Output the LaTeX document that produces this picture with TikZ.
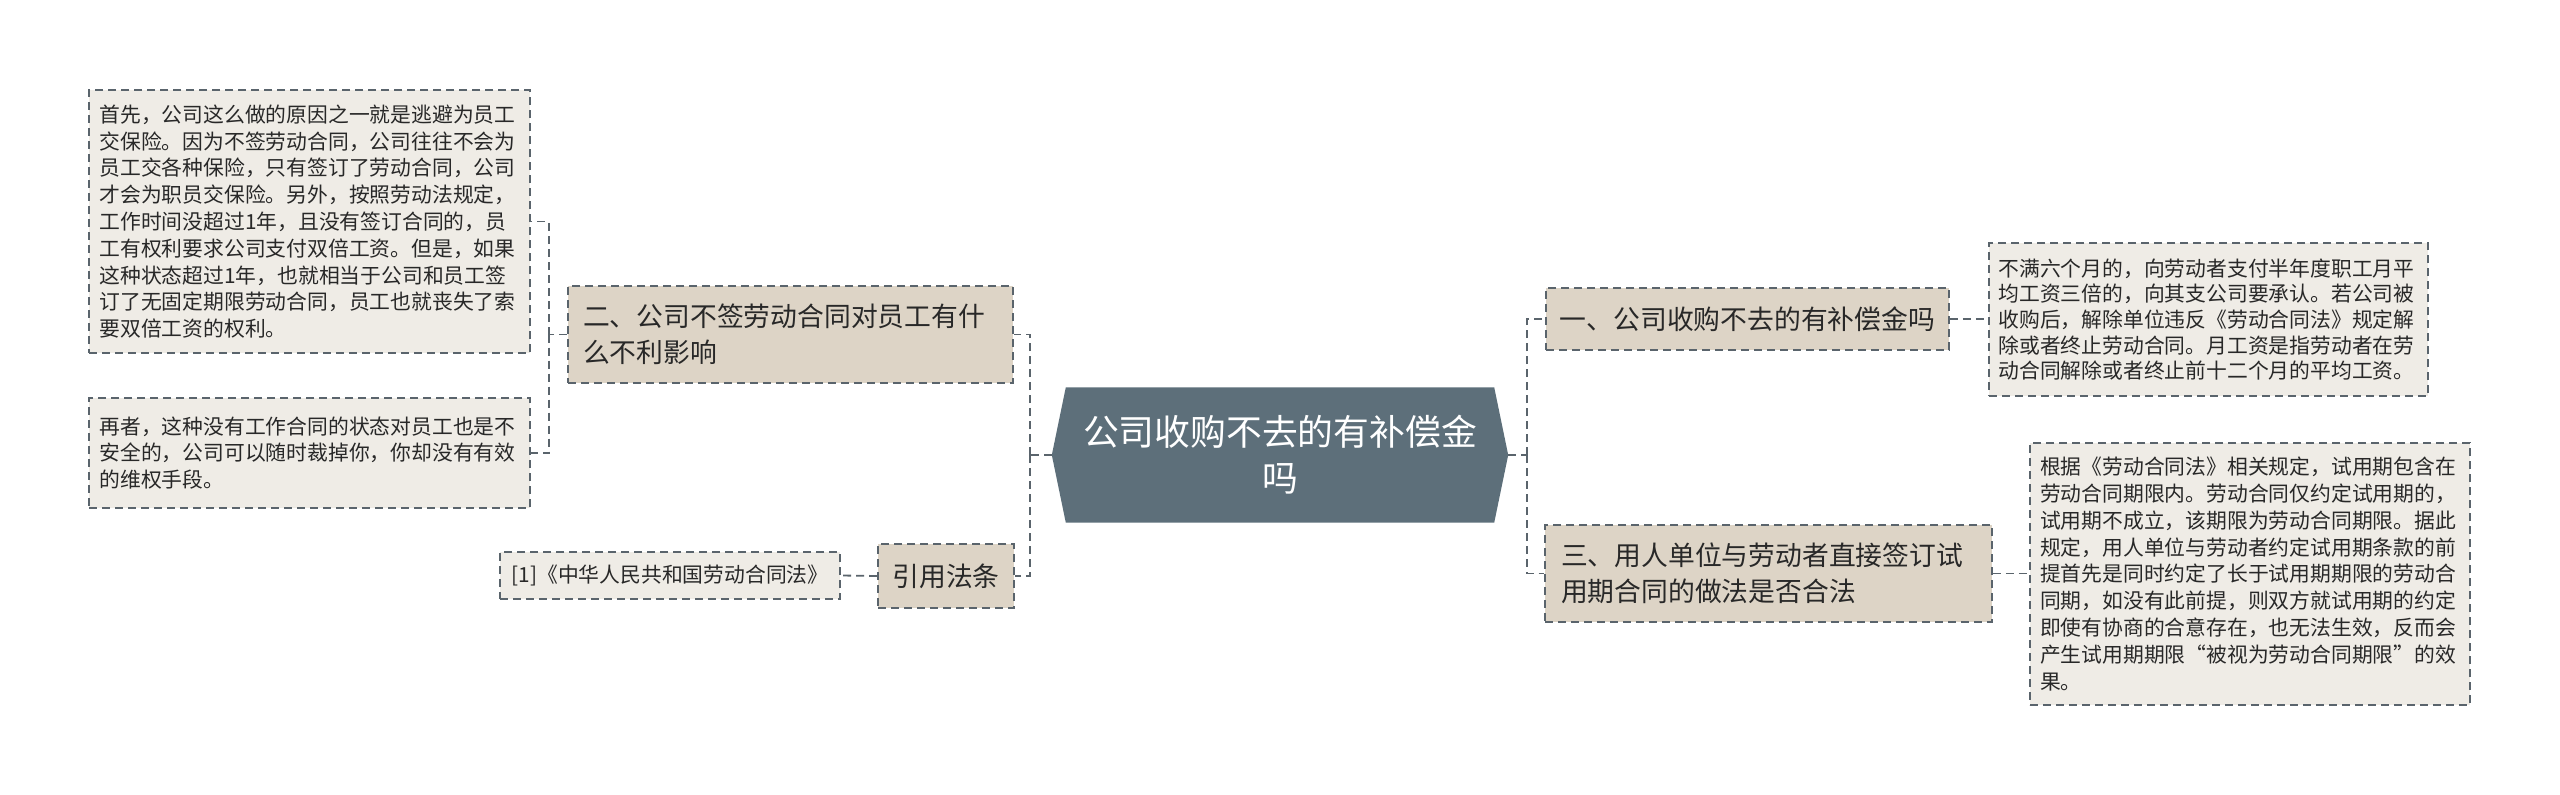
\documentclass[tikz,border=0pt]{standalone}
\usepackage{fontspec}
\setmainfont{Noto Sans CJK SC}
\definecolor{rootfill}{RGB}{93,111,122}
\definecolor{mainfill}{RGB}{221,212,198}
\definecolor{leaffill}{RGB}{239,236,230}
\definecolor{edgecol}{RGB}{90,100,108}
\definecolor{txtcol}{RGB}{40,40,40}
\tikzset{
  dashline/.style={line width=1.8pt, dash pattern=on 8pt off 5pt, draw=edgecol},
  mainbox/.style={dashline, fill=mainfill, text=txtcol, inner sep=0pt,
    font=\fontsize{26.8}{36}\selectfont},
  leafbox/.style={dashline, fill=leaffill, text=txtcol, inner sep=0pt,
    font=\fontsize{20.8}{26.8}\selectfont},
  conn/.style={dashline},
}
\begin{document}
\begin{tikzpicture}[x=1pt,y=-1pt]
\useasboundingbox[fill=white] (0,0) rectangle (2560,795);

% root
\node[minimum width=456pt, minimum height=135pt, inner sep=0pt] (root) at (1280,455) {};
\fill[rootfill] (root.west) -- ([xshift=14pt]root.north west) -- ([xshift=-14pt]root.north east)
  -- (root.east) -- ([xshift=-14pt]root.south east) -- ([xshift=14pt]root.south west) -- cycle;
\node[text=white, align=center, font=\fontsize{35.8}{46}\selectfont] (roottext) at (root.center)
  {公司收购不去的有补偿金\\吗};

% left side
\node[mainbox, minimum width=445pt, minimum height=97pt, text width=415pt, align=left] (n2) at (790.5,334.5)
  {二、公司不签劳动合同对员工有什\\么不利影响};
\node[mainbox, minimum width=136pt, minimum height=64pt, align=center] (cite) at (946,576)
  {引用法条};
\node[leafbox, minimum width=441pt, minimum height=263pt, text width=420pt, align=left] (l1) at (309.5,221.5)
  {首先，公司这么做的原因之一就是逃避为员工\\
   交保险。因为不签劳动合同，公司往往不会为\\
   员工交各种保险，只有签订了劳动合同，公司\\
   才会为职员交保险。另外，按照劳动法规定，\\
   工作时间没超过1年，且没有签订合同的，员\\
   工有权利要求公司支付双倍工资。但是，如果\\
   这种状态超过1年，也就相当于公司和员工签\\
   订了无固定期限劳动合同，员工也就丧失了索\\
   要双倍工资的权利。};
\node[leafbox, minimum width=441pt, minimum height=110pt, text width=420pt, align=left] (l2) at (309.5,453)
  {再者，这种没有工作合同的状态对员工也是不\\
   安全的，公司可以随时裁掉你，你却没有有效\\
   的维权手段。};
\node[leafbox, minimum width=340pt, minimum height=47pt, align=center] (ref) at (670,575.5)
  {[1]《中华人民共和国劳动合同法》};

% right side
\node[mainbox, minimum width=403pt, minimum height=62pt, align=center] (n1) at (1747.5,319)
  {一、公司收购不去的有补偿金吗};
\node[mainbox, minimum width=447pt, minimum height=97pt, text width=415pt, align=left] (n3) at (1768.5,573.5)
  {三、用人单位与劳动者直接签订试\\用期合同的做法是否合法};
\node[leafbox, minimum width=439pt, minimum height=153pt, text width=420pt, align=left,
  font=\fontsize{20.8}{25.6}\selectfont] (r1) at (2208.5,319.5)
  {不满六个月的，向劳动者支付半年度职工月平\\
   均工资三倍的，向其支公司要承认。若公司被\\
   收购后，解除单位违反《劳动合同法》规定解\\
   除或者终止劳动合同。月工资是指劳动者在劳\\
   动合同解除或者终止前十二个月的平均工资。};
\node[leafbox, minimum width=440pt, minimum height=262pt, text width=420pt, align=left] (r2) at (2250,574)
  {根据《劳动合同法》相关规定，试用期包含在\\
   劳动合同期限内。劳动合同仅约定试用期的，\\
   试用期不成立，该期限为劳动合同期限。据此\\
   规定，用人单位与劳动者约定试用期条款的前\\
   提首先是同时约定了长于试用期期限的劳动合\\
   同期，如没有此前提，则双方就试用期的约定\\
   即使有协商的合意存在，也无法生效，反而会\\
   产生试用期期限“被视为劳动合同期限”的效\\
   果。};

% connectors
\coordinate (lj) at (1030,455);
\coordinate (rj) at (1527,455);
\coordinate (l2j) at (549,334.5);
\draw[conn] (root.west) -- (lj);
\draw[conn] (lj) |- (n2.east);
\draw[conn] (lj) |- (cite.east);
\draw[conn] (root.east) -- (rj);
\draw[conn] (rj) |- (n1.west);
\draw[conn] (rj) |- (n3.west);
\draw[conn] (n2.west) -- (l2j);
\draw[conn] (l2j) |- (l1.east);
\draw[conn] (l2j) |- (l2.east);
\draw[conn] (cite.west) -- (ref.east);
\draw[conn] (n1.east) -- (n1.east -| r1.west);
\draw[conn] (n3.east) -- (n3.east -| r2.west);
\end{tikzpicture}
\end{document}
